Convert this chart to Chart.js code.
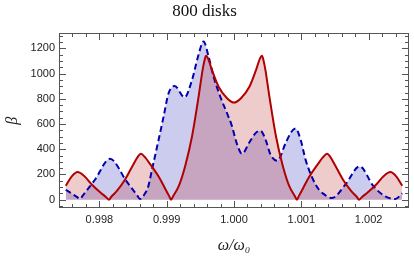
<!DOCTYPE html>
<html>
<head>
<meta charset="utf-8">
<script src="https://cdn.jsdelivr.net/npm/chart.js@4.4.1/dist/chart.umd.min.js"></script>
<style>
  html, body { margin: 0; padding: 0; background: #fff; }
  #wrap { width: 414px; height: 258px; }
</style>
</head>
<body>
<div id="wrap"><canvas id="chart" width="414" height="258"></canvas></div>
<script>
/* ── Data ───────────────────────────────────────────────────── */
const redX = [
  0.997500, 0.997590, 0.997676, 0.997770, 0.997890, 0.998020, 0.998100, 0.998140, 0.998180, 0.998260,
  0.998380, 0.998500, 0.998570, 0.998618, 0.998680, 0.998730, 0.998880, 0.998970, 0.999035, 0.999065,
  0.999095, 0.999177, 0.999276, 0.999376, 0.999474, 0.999533, 0.999564, 0.999584, 0.999610, 0.999673,
  0.999771, 0.999896, 1.000000, 1.000104, 1.000229, 1.000327, 1.000390, 1.000416, 1.000436, 1.000467,
  1.000526, 1.000624, 1.000724, 1.000823, 1.000905, 1.000935, 1.000965, 1.001030, 1.001120, 1.001270,
  1.001320, 1.001382, 1.001430, 1.001500, 1.001620, 1.001740, 1.001820, 1.001860, 1.001900, 1.001980,
  1.002110, 1.002230, 1.002324, 1.002410, 1.002500
];
const redY = [
  111, 185, 219, 190, 119, 55, 20, 0, 25, 70,
  158, 275, 340, 364, 335, 300, 184, 95, 30, 0,
  28, 105, 270, 501, 817, 1028, 1110, 1142, 1125, 1028,
  896, 805, 770, 805, 896, 1028, 1125, 1142, 1110, 1028,
  817, 501, 270, 105, 28, 0, 30, 95, 184, 300,
  335, 364, 340, 275, 158, 70, 25, 0, 20, 55,
  119, 190, 219, 185, 111
];

const blueX = [
  0.997500, 0.997670, 0.997712, 0.997750, 0.997934, 0.998157, 0.998404, 0.998560, 0.998603, 0.998682,
  0.998726, 0.998781, 0.998880, 0.998954, 0.999028, 0.999117, 0.999266, 0.999376, 0.999465, 0.999548,
  0.999623, 0.999697, 0.999796, 0.999896, 0.999975, 1.000024, 1.000098, 1.000120, 1.000223, 1.000321,
  1.000395, 1.000470, 1.000544, 1.000643, 1.000767, 1.000856, 1.000915, 1.000990, 1.001064, 1.001164,
  1.001263, 1.001312, 1.001456, 1.001654, 1.001866, 1.002074, 1.002248, 1.002397, 1.002500
];
const blueY = [
  79, 20, 5, 30, 158, 324, 145, 35, 5, 53,
  105, 237, 475, 659, 844, 902, 812, 949, 1134, 1255,
  1134, 975, 817, 686, 575, 475, 372, 364, 449, 528,
  546, 475, 356, 309, 449, 541, 564, 475, 316, 172,
  79, 53, 13, 119, 264, 105, 26, 5, 50
];

const xTicks = [0.998, 0.999, 1.000, 1.001, 1.002];
const yTicks = [0, 200, 400, 600, 800, 1000, 1200];

const toPts = (xs, ys) => xs.map((x, i) => ({ x: x, y: ys[i] }));

/* ── Mathematica-style frame with inward ticks ──────────────── */
const frameTicks = {
  id: 'frameTicks',
  afterDatasetsDraw(chart) {
    const { ctx, chartArea: a, scales: { x, y } } = chart;
    const L = Math.round(a.left) + 0.5, R = Math.round(a.right) - 0.5;
    const T = Math.round(a.top) + 0.5, B = Math.round(a.bottom) - 0.5;
    ctx.save();
    ctx.strokeStyle = '#555';
    ctx.lineWidth = 1;
    ctx.strokeRect(L, T, R - L, B - T);

    ctx.beginPath();
    // x ticks (every 0.0002, major every 0.001)
    for (let k = 0; k <= 26; k++) {
      const v = 0.9974 + k * 0.0002;
      const major = xTicks.some(t => Math.abs(t - v) < 1e-9);
      const len = major ? 6.5 : 3.5;
      const px = Math.round(x.getPixelForValue(v)) + 0.5;
      if (px <= L || px >= R) continue;
      ctx.moveTo(px, B); ctx.lineTo(px, B - len);
      ctx.moveTo(px, T); ctx.lineTo(px, T + len);
    }
    // y ticks (every 50, major every 200)
    for (let v = -50; v <= 1300; v += 50) {
      const major = yTicks.includes(v);
      const len = major ? 6.5 : 3.5;
      const py = Math.round(y.getPixelForValue(v)) + 0.5;
      if (py <= T || py >= B) continue;
      ctx.moveTo(L, py); ctx.lineTo(L + len, py);
      ctx.moveTo(R, py); ctx.lineTo(R - len, py);
    }
    ctx.stroke();
    ctx.restore();
  }
};

/* ── Chart ──────────────────────────────────────────────────── */
new Chart(document.getElementById('chart'), {
  type: 'line',
  data: {
    datasets: [
      {
        data: toPts(redX, redY),
        borderColor: '#b00000',
        backgroundColor: 'rgba(176,0,0,0.2)',
        borderWidth: 2,
        fill: 'origin',
        pointRadius: 0,
        cubicInterpolationMode: 'monotone'
      },
      {
        data: toPts(blueX, blueY),
        borderColor: '#0000b0',
        backgroundColor: 'rgba(0,0,176,0.2)',
        borderWidth: 2,
        borderDash: [6, 3.5],
        fill: 'origin',
        pointRadius: 0,
        cubicInterpolationMode: 'monotone'
      }
    ]
  },
  options: {
    responsive: false,
    animation: false,
    devicePixelRatio: 1,
    layout: { padding: { left: 0, right: 5, top: 0, bottom: 0 } },
    plugins: {
      legend: { display: false },
      tooltip: { enabled: false },
      filler: { drawTime: 'beforeDatasetsDraw' },
      title: {
        display: true,
        text: '800 disks',
        color: '#111',
        font: { family: 'Liberation Serif', size: 17, weight: 'normal', lineHeight: 1.2 },
        padding: { top: 1, bottom: 12 }
      }
    },
    scales: {
      x: {
        type: 'linear',
        min: 0.9974,
        max: 1.0026,
        afterBuildTicks: s => { s.ticks = xTicks.map(v => ({ value: v })); },
        afterFit: s => { s.height = 50; },
        grid: { display: false, drawTicks: false },
        border: { display: false },
        ticks: {
          padding: 5,
          maxRotation: 0,
          color: '#222',
          font: { family: 'Liberation Sans', size: 11 },
          callback: v => v.toFixed(3)
        },
        title: {
          display: true,
          text: 'ω/ω₀',
          color: '#222',
          font: { family: 'Liberation Serif', size: 16, style: 'italic', lineHeight: 1.2 },
          padding: { top: 0, bottom: 3 }
        }
      },
      y: {
        min: -66,
        max: 1319,
        afterBuildTicks: s => { s.ticks = yTicks.map(v => ({ value: v })); },
        afterFit: s => { s.width = 59; },
        grid: { display: false, drawTicks: false },
        border: { display: false },
        ticks: {
          padding: 4,
          color: '#222',
          font: { family: 'Liberation Sans', size: 11 },
          callback: v => String(v)
        },
        title: {
          display: true,
          text: 'β',
          color: '#222',
          font: { family: 'Liberation Serif', size: 16, style: 'italic', lineHeight: 1.2 },
          padding: { top: 3, bottom: 0 }
        }
      }
    }
  },
  plugins: [frameTicks]
});
</script>
</body>
</html>
